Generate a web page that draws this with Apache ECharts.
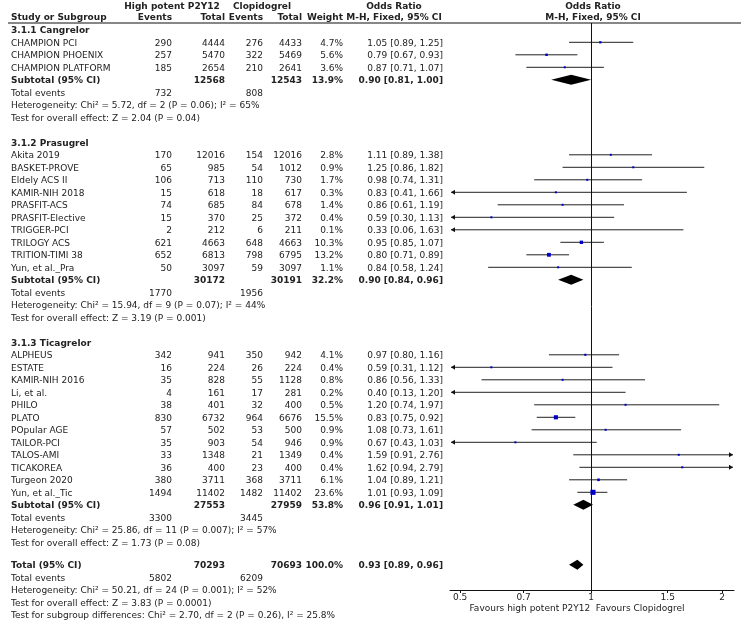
<!DOCTYPE html>
<html>
<head>
<meta charset="utf-8">
<script src="https://cdn.jsdelivr.net/npm/echarts@6/dist/echarts.min.js"></script>
<style>
html,body{margin:0;padding:0;background:#fff;}
#chart{width:744px;height:623px;}
</style>
</head>
<body>
<div id="chart"></div>
<script>
// ---------------- DATA ----------------
const groupNames = ['3.1.1 Cangrelor', '3.1.2 Prasugrel', '3.1.3 Ticagrelor'];
const studyGroup = [0,0,0, 1,1,1,1,1,1,1,1,1,1, 2,2,2,2,2,2,2,2,2,2,2,2];
const studyNames = ['CHAMPION PCI','CHAMPION PHOENIX','CHAMPION PLATFORM',
  'Akita 2019','BASKET-PROVE','Eldely ACS II','KAMIR-NIH 2018','PRASFIT-ACS','PRASFIT-Elective','TRIGGER-PCI','TRILOGY ACS','TRITION-TIMI 38','Yun, et al._Pra',
  'ALPHEUS','ESTATE','KAMIR-NIH 2016','Li, et al.','PHILO','PLATO','POpular AGE','TAILOR-PCI','TALOS-AMI','TICAKOREA','Turgeon 2020','Yun, et al._Tic'];
const events1 = [290,257,185, 170,65,106,15,74,15,2,621,652,50, 342,16,35,4,38,830,57,35,33,36,380,1494];
const total1  = [4444,5470,2654, 12016,985,713,618,685,370,212,4663,6813,3097, 941,224,828,161,401,6732,502,903,1348,400,3711,11402];
const events2 = [276,322,210, 154,54,110,18,84,25,6,648,798,59, 350,26,55,17,32,964,53,54,21,23,368,1482];
const total2  = [4433,5469,2641, 12016,1012,730,617,678,372,211,4663,6795,3097, 942,224,1128,281,400,6676,500,946,1349,400,3711,11402];
const weights = [4.7,5.6,3.6, 2.8,0.9,1.7,0.3,1.4,0.4,0.1,10.3,13.2,1.1, 4.1,0.4,0.8,0.2,0.5,15.5,0.9,0.9,0.4,0.4,6.1,23.6];
const orVals  = [1.05,0.79,0.87, 1.11,1.25,0.98,0.83,0.86,0.59,0.33,0.95,0.80,0.84, 0.97,0.59,0.86,0.40,1.20,0.83,1.08,0.67,1.59,1.62,1.04,1.01];
const ciLow   = [0.89,0.67,0.71, 0.89,0.86,0.74,0.41,0.61,0.30,0.06,0.85,0.71,0.58, 0.80,0.31,0.56,0.13,0.74,0.75,0.73,0.43,0.91,0.94,0.89,0.93];
const ciHigh  = [1.25,0.93,1.07, 1.38,1.82,1.31,1.66,1.19,1.13,1.63,1.07,0.89,1.24, 1.16,1.12,1.33,1.20,1.97,0.92,1.61,1.03,2.76,2.79,1.21,1.09];

const subTotal1  = [12568, 30172, 27553];
const subTotal2  = [12543, 30191, 27959];
const subWeight  = [13.9, 32.2, 53.8];
const subOR      = [0.90, 0.90, 0.96];
const subLow     = [0.81, 0.84, 0.91];
const subHigh    = [1.00, 0.96, 1.01];
const subEvents1 = [732, 1770, 3300];
const subEvents2 = [808, 1956, 3445];
const subHet  = ['Heterogeneity: Chi\u00b2 = 5.72, df = 2 (P = 0.06); I\u00b2 = 65%',
                 'Heterogeneity: Chi\u00b2 = 15.94, df = 9 (P = 0.07); I\u00b2 = 44%',
                 'Heterogeneity: Chi\u00b2 = 25.86, df = 11 (P = 0.007); I\u00b2 = 57%'];
const subTest = ['Test for overall effect: Z = 2.04 (P = 0.04)',
                 'Test for overall effect: Z = 3.19 (P = 0.001)',
                 'Test for overall effect: Z = 1.73 (P = 0.08)'];

const overallN1 = 70293, overallN2 = 70693, overallWeight = 100.0;
const overallOR = 0.93, overallLow = 0.89, overallHigh = 0.96;
const overallEvents1 = 5802, overallEvents2 = 6209;
const overallHet  = 'Heterogeneity: Chi\u00b2 = 50.21, df = 24 (P = 0.001); I\u00b2 = 52%';
const overallTest = 'Test for overall effect: Z = 3.83 (P = 0.0001)';
const subgroupDiff = 'Test for subgroup differences: Chi\u00b2 = 2.70, df = 2 (P = 0.26), I\u00b2 = 25.8%';

const axisTickValues = [0.5, 0.7, 1, 1.5, 2];
const favoursLabel = 'Favours high potent P2Y12  Favours Clopidogrel';
const headerTop = ['High potent P2Y12', 'Clopidogrel', 'Odds Ratio', 'Odds Ratio'];
const headerSub = ['Study or Subgroup', 'Events', 'Total', 'Events', 'Total', 'Weight', 'M-H, Fixed, 95% CI', 'M-H, Fixed, 95% CI'];

// ---------------- LAYOUT ----------------
const ROWPX = 12.5;
const FOREST_TOP = 23, FOREST_BOTTOM = 590;
const ROW0_Y = 42.3;
const col = {name: 11, ev1: 172, tot1: 225, ev2: 263, tot2: 302, wt: 343, ci: 443, hdr1: 172, hdr2: 262, hdrOR: 394, plotC: 593};

const fmtCI = (o, l, h) => o.toFixed(2) + ' [' + l.toFixed(2) + ', ' + h.toFixed(2) + ']';
const fmtW = w => w.toFixed(1) + '%';

const cells = [];
function cell(x, row, text, bold, align) { cells.push({x, row, text: String(text), bold: !!bold, align: align || 'right'}); }

const studyPts = [];   // [or, lo, hi, row, weight]
const diamonds = [];   // [or, lo, hi, row]

// header
const hTopRow = (6 - ROW0_Y) / ROWPX, hSubRow = (16.5 - ROW0_Y) / ROWPX;
cell(col.hdr1, hTopRow, headerTop[0], true, 'center');
cell(col.hdr2, hTopRow, headerTop[1], true, 'center');
cell(col.hdrOR, hTopRow, headerTop[2], true, 'center');
cell(col.plotC, hTopRow, headerTop[3], true, 'center');
cell(col.name, hSubRow, headerSub[0], true, 'left');
cell(col.ev1, hSubRow, headerSub[1], true);
cell(col.tot1, hSubRow, headerSub[2], true);
cell(col.ev2, hSubRow, headerSub[3], true);
cell(col.tot2, hSubRow, headerSub[4], true);
cell(col.wt, hSubRow, headerSub[5], true);
cell(col.hdrOR, hSubRow, headerSub[6], true, 'center');
cell(col.plotC, hSubRow, headerSub[7], true, 'center');

let r = -1;
for (let g = 0; g < groupNames.length; g++) {
  cell(col.name, r, groupNames[g], true, 'left');
  r++;
  for (let i = 0; i < studyNames.length; i++) {
    if (studyGroup[i] !== g) continue;
    cell(col.name, r, studyNames[i], false, 'left');
    cell(col.ev1, r, events1[i]);
    cell(col.tot1, r, total1[i]);
    cell(col.ev2, r, events2[i]);
    cell(col.tot2, r, total2[i]);
    cell(col.wt, r, fmtW(weights[i]));
    cell(col.ci, r, fmtCI(orVals[i], ciLow[i], ciHigh[i]));
    studyPts.push([orVals[i], ciLow[i], ciHigh[i], r, weights[i]]);
    r++;
  }
  cell(col.name, r, 'Subtotal (95% CI)', true, 'left');
  cell(col.tot1, r, subTotal1[g], true);
  cell(col.tot2, r, subTotal2[g], true);
  cell(col.wt, r, fmtW(subWeight[g]), true);
  cell(col.ci, r, fmtCI(subOR[g], subLow[g], subHigh[g]), true);
  diamonds.push([subOR[g], subLow[g], subHigh[g], r]);
  r++;
  cell(col.name, r, 'Total events', false, 'left');
  cell(col.ev1, r, subEvents1[g]);
  cell(col.ev2, r, subEvents2[g]);
  r++;
  cell(col.name, r, subHet[g], false, 'left'); r++;
  cell(col.name, r, subTest[g], false, 'left'); r++;
  r++;
}
let t = r - 0.2;
cell(col.name, t, 'Total (95% CI)', true, 'left');
cell(col.tot1, t, overallN1, true);
cell(col.tot2, t, overallN2, true);
cell(col.wt, t, fmtW(overallWeight), true);
cell(col.ci, t, fmtCI(overallOR, overallLow, overallHigh), true);
diamonds.push([overallOR, overallLow, overallHigh, t]);
cell(col.name, t + 1, 'Total events', false, 'left');
cell(col.ev1, t + 1, overallEvents1);
cell(col.ev2, t + 1, overallEvents2);
cell(col.name, t + 2, overallHet, false, 'left');
cell(col.name, t + 3, overallTest, false, 'left');
cell(col.name, t + 4, subgroupDiff, false, 'left');

const yMinF = (FOREST_TOP - ROW0_Y) / ROWPX, yMaxF = (FOREST_BOTTOM - ROW0_Y) / ROWPX;
const yMinT = (0 - ROW0_Y) / ROWPX, yMaxT = (623 - ROW0_Y) / ROWPX;

const FONT = '"DejaVu Sans", Verdana, sans-serif';
const TXT = '#222';

const chart = echarts.init(document.getElementById('chart'), null, {renderer: 'canvas'});
chart.setOption({
  animation: false,
  backgroundColor: '#fff',
  grid: [
    {left: 450, width: 284, top: FOREST_TOP, height: FOREST_BOTTOM - FOREST_TOP, containLabel: false},
    {left: 0, width: 744, top: 0, height: 623, containLabel: false}
  ],
  xAxis: [
    {type: 'log', gridIndex: 0, min: 0.474, max: 2.13, logBase: 10,
     axisLine: {show: true, onZero: false, lineStyle: {color: '#111', width: 1}},
     axisTick: {show: true, length: 3, customValues: axisTickValues, lineStyle: {color: '#111'}},
     axisLabel: {show: true, customValues: axisTickValues, margin: 3, fontSize: 9, color: TXT, fontFamily: FONT,
                 formatter: v => String(+v.toFixed(2))},
     splitLine: {show: false}, minorTick: {show: false}},
    {type: 'value', gridIndex: 1, min: 0, max: 744, show: false}
  ],
  yAxis: [
    {type: 'value', gridIndex: 0, min: yMinF, max: yMaxF, inverse: true, show: false},
    {type: 'value', gridIndex: 1, min: yMinT, max: yMaxT, inverse: true, show: false}
  ],
  graphic: [
    {type: 'line', shape: {x1: 8, y1: FOREST_TOP, x2: 741, y2: FOREST_TOP}, style: {stroke: '#111', lineWidth: 1.2}, z: 10},
    {type: 'text', x: 577, y: 609, style: {text: favoursLabel, font: '9px ' + FONT, fill: TXT, align: 'center', verticalAlign: 'middle'}, z: 10}
  ],
  series: [
    {
      type: 'custom', xAxisIndex: 1, yAxisIndex: 1, silent: true,
      data: cells.map((c, i) => [c.x, c.row, i]),
      renderItem: (params, api) => {
        const c = cells[api.value(2)];
        const p = api.coord([api.value(0), api.value(1)]);
        return {type: 'text', x: p[0], y: p[1] + 1,
          style: {text: c.text, fill: TXT, font: (c.bold ? 'bold ' : '') + '9px ' + FONT,
                  align: c.align, verticalAlign: 'middle'}};
      }
    },
    {
      type: 'custom', xAxisIndex: 0, yAxisIndex: 0, silent: true, clip: false,
      data: studyPts,
      renderItem: (params, api) => {
        const cs = params.coordSys;
        const left = cs.x + 1, right = cs.x + cs.width - 1;
        const row = api.value(3);
        const y = api.coord([1, row])[1];
        const xo = api.coord([api.value(0), row])[0];
        const xl = api.coord([api.value(1), row])[0];
        const xh = api.coord([api.value(2), row])[0];
        const a = Math.max(xl, left), b = Math.min(xh, right);
        const ch = [{type: 'line', shape: {x1: a, y1: y, x2: b, y2: y}, style: {stroke: '#222', lineWidth: 1}}];
        if (xl < left) ch.push({type: 'polygon', shape: {points: [[a, y], [a + 4, y - 2.5], [a + 4, y + 2.5]]}, style: {fill: '#111'}});
        if (xh > right) ch.push({type: 'polygon', shape: {points: [[b, y], [b - 4, y - 2.5], [b - 4, y + 2.5]]}, style: {fill: '#111'}});
        if (xo >= left && xo <= right) {
          const s = Math.max(2, Math.sqrt(api.value(4)) * 1.05);
          ch.push({type: 'rect', shape: {x: xo - s / 2, y: y - s / 2, width: s, height: s}, style: {fill: '#0000c8'}});
        }
        return {type: 'group', children: ch};
      }
    },
    {
      type: 'custom', xAxisIndex: 0, yAxisIndex: 0, silent: true, clip: false,
      data: diamonds,
      renderItem: (params, api) => {
        const row = api.value(3);
        const y = api.coord([1, row])[1];
        const xo = api.coord([api.value(0), row])[0];
        const xl = api.coord([api.value(1), row])[0];
        const xh = api.coord([api.value(2), row])[0];
        return {type: 'polygon', shape: {points: [[xl, y], [xo, y - 5], [xh, y], [xo, y + 5]]}, style: {fill: '#000'}};
      },
      markLine: {silent: true, symbol: 'none', label: {show: false},
        lineStyle: {color: '#111', width: 1, type: 'solid'},
        data: [{xAxis: 1}]}
    }
  ]
});
</script>
</body>
</html>
